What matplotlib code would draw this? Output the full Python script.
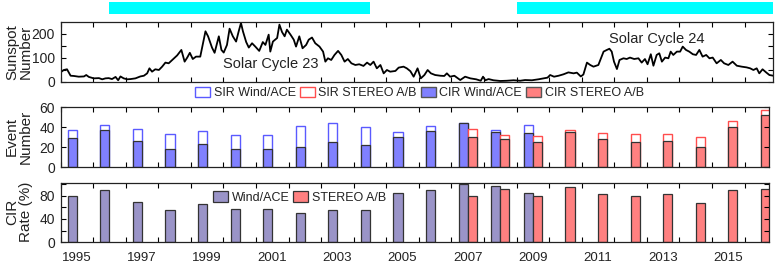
import matplotlib
matplotlib.use("Agg")
import matplotlib.pyplot as plt
from matplotlib.patches import Patch

plt.rcParams['font.family'] = ['Liberation Sans', 'DejaVu Sans']
plt.rcParams['text.color'] = '#222222'
plt.rcParams['xtick.labelcolor'] = '#222222'
plt.rcParams['ytick.labelcolor'] = '#222222'

# monthly sunspot number
ssn_time = [1995.00, 1995.10, 1995.20, 1995.31, 1995.41, 1995.56, 1995.72, 1995.79, 1995.87, 1996.02,
            1996.18, 1996.28, 1996.38, 1996.48, 1996.58, 1996.69, 1996.77, 1996.84, 1996.94, 1997.05,
            1997.15, 1997.30, 1997.45, 1997.56, 1997.66, 1997.73, 1997.81, 1997.91, 1998.02, 1998.12,
            1998.22, 1998.32, 1998.43, 1998.58, 1998.71, 1998.81, 1998.89, 1998.97, 1999.06, 1999.16,
            1999.29, 1999.45, 1999.53, 1999.65, 1999.73, 1999.86, 1999.94, 2000.01, 2000.11, 2000.19,
            2000.29, 2000.39, 2000.47, 2000.54, 2000.60, 2000.70, 2000.78, 2000.88, 2000.98, 2001.10,
            2001.21, 2001.29, 2001.39, 2001.44, 2001.52, 2001.65, 2001.72, 2001.80, 2001.88, 2001.95,
            2002.06, 2002.16, 2002.23, 2002.33, 2002.43, 2002.54, 2002.62, 2002.72, 2002.82, 2002.95,
            2003.06, 2003.13, 2003.21, 2003.31, 2003.41, 2003.52, 2003.62, 2003.72, 2003.82, 2003.93,
            2004.05, 2004.17, 2004.30, 2004.41, 2004.51, 2004.61, 2004.71, 2004.82, 2004.92, 2005.02,
            2005.12, 2005.28, 2005.38, 2005.53, 2005.63, 2005.74, 2005.84, 2005.96, 2006.06, 2006.17,
            2006.27, 2006.37, 2006.50, 2006.66, 2006.78, 2006.86, 2006.96, 2007.09, 2007.27, 2007.42,
            2007.58, 2007.76, 2007.90, 2007.97, 2008.04, 2008.14, 2008.29, 2008.50, 2008.70, 2008.91,
            2009.11, 2009.26, 2009.47, 2009.67, 2009.83, 2009.95, 2010.03, 2010.15, 2010.29, 2010.44,
            2010.59, 2010.75, 2010.85, 2010.97, 2011.05, 2011.16, 2011.26, 2011.36, 2011.51, 2011.67,
            2011.77, 2011.85, 2011.92, 2011.99, 2012.08, 2012.16, 2012.28, 2012.38, 2012.48, 2012.61,
            2012.74, 2012.84, 2012.94, 2013.02, 2013.12, 2013.20, 2013.30, 2013.38, 2013.46, 2013.56,
            2013.66, 2013.73, 2013.81, 2013.92, 2014.02, 2014.10, 2014.20, 2014.30, 2014.41, 2014.51,
            2014.61, 2014.71, 2014.82, 2014.92, 2015.02, 2015.14, 2015.27, 2015.37, 2015.50, 2015.63,
            2015.76, 2015.91, 2016.06, 2016.17, 2016.27, 2016.37, 2016.45, 2016.55, 2016.66, 2016.76,
            2016.88]
ssn = [39, 49, 52, 25, 24, 21, 22, 28, 20, 14,
       15, 10, 14, 15, 11, 20, 6, 22, 14, 10,
       11, 14, 22, 25, 35, 56, 42, 52, 49, 63,
       80, 77, 91, 110, 133, 84, 101, 121, 95, 105,
       105, 211, 190, 143, 121, 190, 133, 122, 154, 222,
       190, 168, 211, 246, 211, 166, 143, 161, 147, 129,
       166, 154, 197, 126, 168, 183, 239, 208, 190, 218,
       197, 176, 147, 190, 140, 154, 176, 185, 161, 147,
       126, 84, 98, 91, 112, 129, 112, 84, 95, 77,
       70, 73, 66, 80, 70, 84, 56, 70, 35, 49,
       42, 45, 59, 63, 56, 44, 21, 56, 14, 28,
       49, 35, 28, 25, 24, 35, 21, 25, 7, 21,
       14, 10, 4, 21, 6, 11, 6, 3, 4, 6,
       4, 7, 6, 10, 14, 17, 28, 21, 25, 31,
       39, 35, 38, 22, 30, 80, 70, 63, 70, 126,
       133, 138, 126, 84, 53, 91, 98, 95, 101, 95,
       98, 80, 95, 73, 115, 67, 112, 119, 84, 101,
       98, 126, 112, 126, 126, 147, 133, 126, 115, 112,
       133, 105, 112, 98, 101, 77, 91, 77, 70, 84,
       67, 63, 60, 56, 49, 56, 35, 52, 39, 28,
       25]

# event numbers per year
wind_years = list(range(1995, 2010))
wind_sir = [37, 42, 38, 33, 36, 32, 32, 41, 44, 40, 35, 41, 44, 37, 42]
wind_cir = [29, 37, 26, 18, 23, 18, 18, 20, 25, 22, 30, 36, 44, 35, 34]
wind_rate = [80, 90, 69, 55, 65, 57, 57, 50, 56, 56, 85, 89, 99, 96, 85]

stereo_years = list(range(2007, 2017))
stereo_sir = [38, 32, 31, 37, 34, 33, 33, 30, 46, 57]
stereo_cir = [30, 28, 25, 35, 28, 25, 26, 20, 40, 52]
stereo_rate = [80, 91, 80, 94, 83, 79, 82, 68, 89, 92]

cyan_periods = [(1996.5, 2004.5), (2009.0, 2016.9)]
label_years = list(range(1995, 2016, 2))

W, H = 778, 268
fig = plt.figure(figsize=(W / 100, H / 100), dpi=100)

def px_axes(x0, y0, x1, y1):
    return fig.add_axes([x0 / W, 1 - y1 / H, (x1 - x0) / W, (y1 - y0) / H])

blue_fill = '#8080FF'
blue_line = '#5a5aff'
red_fill = '#FF8080'
red_line = '#ff4d4d'
purple = '#9a94c8'
bw = 0.28

def style(ax, xmax):
    ax.set_xlim(1995, xmax)
    ax.set_xticks(range(1995, 2017))
    ax.tick_params(direction='in', top=True, right=True, length=3.5, width=0.8,
                   labelbottom=False, labelsize=10, pad=4)
    for s in ax.spines.values():
        s.set_linewidth(0.9)
        s.set_color('#222222')

# cyan bars on top
axc = px_axes(60.5, 2, 773.3, 13.7)
axc.set_xlim(1995, 2016.88)
axc.set_ylim(0, 1)
for a, b in cyan_periods:
    axc.barh(0.5, b - a, left=a, height=1, color='#00FFFF')
axc.axis('off')

# sunspot panel
ax1 = px_axes(60.5, 22, 773.3, 81.7)
ax1.plot(ssn_time, ssn, color='black', lw=1.3)
style(ax1, 2016.88)
ax1.set_ylim(0, 250)
ax1.set_yticks([0, 50, 100, 150, 200])
ax1.set_yticklabels(['0', '', '100', '', '200'])
ax1.text(2001.45, 74, 'Solar Cycle 23', ha='center', va='center', fontsize=10.5)
ax1.text(2013.3, 178, 'Solar Cycle 24', ha='center', va='center', fontsize=10.5)

# event number panel
ax2 = px_axes(60.5, 107.3, 769.3, 167.3)
wx = [y + 0.5 - 0.14 for y in wind_years]
sx = [y + 0.5 + 0.14 for y in stereo_years]
ax2.bar(wx, wind_sir, bw, facecolor='white', edgecolor=blue_line, lw=1.0)
ax2.bar(wx, wind_cir, bw, facecolor=blue_fill, edgecolor='#333333', lw=0.9)
ax2.bar(sx, stereo_sir, bw, facecolor='white', edgecolor=red_line, lw=1.0)
ax2.bar(sx, stereo_cir, bw, facecolor=red_fill, edgecolor='#333333', lw=0.9)
style(ax2, 2016.76)
ax2.set_ylim(0, 60)
ax2.set_yticks([0, 20, 40, 60])
handles = [Patch(facecolor='white', edgecolor=blue_line, label='SIR Wind/ACE'),
           Patch(facecolor='white', edgecolor=red_line, label='SIR STEREO A/B'),
           Patch(facecolor=blue_fill, edgecolor='#555555', label='CIR Wind/ACE'),
           Patch(facecolor=red_fill, edgecolor='#555555', label='CIR STEREO A/B')]
ax2.legend(handles=handles, ncol=4, loc='center left', bbox_to_anchor=(0.19, 1.24),
           frameon=False, fontsize=9, handlelength=1.2, handleheight=0.9,
           handletextpad=0.3, columnspacing=0.3, borderpad=0, borderaxespad=0)

# CIR rate panel
ax3 = px_axes(60.5, 182.7, 769.3, 242.3)
ax3.bar(wx, wind_rate, bw, facecolor=purple, edgecolor='#333333', lw=0.9, label='Wind/ACE')
ax3.bar(sx, stereo_rate, bw, facecolor=red_fill, edgecolor='#333333', lw=0.9, label='STEREO A/B')
style(ax3, 2016.76)
ax3.set_ylim(0, 102)
ax3.set_yticks([0, 20, 40, 60, 80, 100])
ax3.set_yticklabels(['0', '', '40', '', '80', ''])
ax3.set_xticks([y + 0.5 for y in label_years], minor=True)
ax3.set_xticklabels([str(y) for y in label_years], minor=True, fontsize=9.5)
ax3.tick_params(which='minor', length=0, pad=7, labelbottom=True)
ax3.legend(ncol=2, loc='center left', bbox_to_anchor=(0.215, 0.75), frameon=False,
           fontsize=9, handlelength=1.2, handleheight=0.9, handletextpad=0.3,
           columnspacing=0.3, borderpad=0, borderaxespad=0)

# y labels
fig.text(19 / W, 1 - 52 / H, 'Sunspot\nNumber', rotation=90, ha='center', va='center',
         fontsize=11, linespacing=1.0)
fig.text(19 / W, 1 - 137 / H, 'Event\nNumber', rotation=90, ha='center', va='center',
         fontsize=11, linespacing=1.0)
fig.text(19 / W, 1 - 212 / H, 'CIR\nRate (%)', rotation=90, ha='center', va='center',
         fontsize=11, linespacing=1.0)

fig.savefig('out.png', dpi=100)
